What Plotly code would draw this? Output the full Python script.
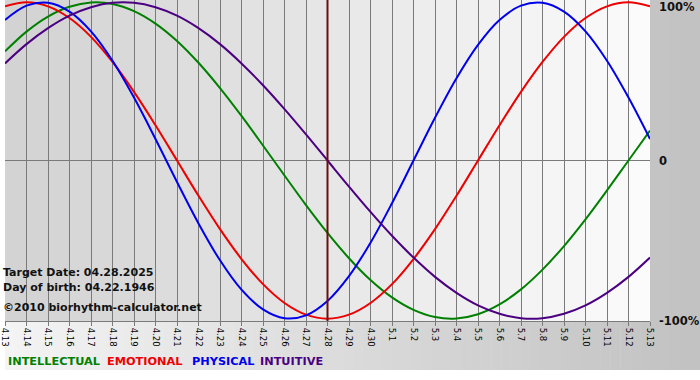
import plotly.graph_objects as go

# ---- data ----
dates = ["4.13", "4.14", "4.15", "4.16", "4.17", "4.18", "4.19", "4.20", "4.21", "4.22",
         "4.23", "4.24", "4.25", "4.26", "4.27", "4.28", "4.29", "4.30", "5.1", "5.2",
         "5.3", "5.4", "5.5", "5.6", "5.7", "5.8", "5.9", "5.10", "5.11", "5.12", "5.13"]

intellectual = [0.690, 0.815, 0.910, 0.972, 0.999, 0.990, 0.945, 0.866, 0.756, 0.618,
                0.458, 0.282, 0.095, -0.095, -0.282, -0.458, -0.618, -0.756, -0.866, -0.945,
                -0.990, -0.999, -0.972, -0.910, -0.815, -0.690, -0.541, -0.372, -0.189, 0.000, 0.189]

emotional = [0.975, 1.000, 0.975, 0.901, 0.782, 0.623, 0.434, 0.223, 0.000, -0.223,
             -0.434, -0.623, -0.782, -0.901, -0.975, -1.000, -0.975, -0.901, -0.782, -0.623,
             -0.434, -0.223, 0.000, 0.223, 0.434, 0.623, 0.782, 0.901, 0.975, 1.000, 0.975]

physical = [0.888, 0.979, 0.998, 0.942, 0.817, 0.631, 0.398, 0.136, -0.136, -0.398,
            -0.631, -0.817, -0.942, -0.998, -0.979, -0.888, -0.731, -0.520, -0.270, 0.000,
            0.270, 0.520, 0.731, 0.888, 0.979, 0.998, 0.942, 0.817, 0.631, 0.398, 0.136]

intuitive = [0.614, 0.736, 0.837, 0.916, 0.969, 0.997, 0.997, 0.969, 0.916, 0.837,
             0.736, 0.614, 0.476, 0.325, 0.165, 0.000, -0.165, -0.325, -0.476, -0.614,
             -0.736, -0.837, -0.916, -0.969, -0.997, -0.997, -0.969, -0.916, -0.837, -0.736, -0.614]

target_day = "4.28"
series_names = ["INTELLECTUAL", "EMOTIONAL", "PHYSICAL", "INTUITIVE"]
info_lines = ["Target Date: 04.28.2025", "Day of birth: 04.22.1946", "©2010 biorhythm-calculator.net"]
y_labels = ["100%", "0", "-100%"]

# ---- styling ----
W, H = 700, 380
PL, PR, PT, PB = 0, 650, 0, 321          # plot area in pixels
colors = ["#008000", "#ee0000", "#0000ee", "#4b0082"]
FONT = "DejaVu Sans"
grid = "#7a7a7a"
YR = 1.015

def pxx(px):
    return (px - PL) / (PR - PL)

def pxy(py):
    return (PB - py) / (PB - PT)

xs = list(range(len(dates)))
series = [intellectual, emotional, physical, intuitive]

fig = go.Figure()
for name, vals, col in zip(series_names, series, colors):
    fig.add_trace(go.Scatter(x=xs, y=vals, mode="lines", name=name,
                             line=dict(color=col, width=2, shape="spline", smoothing=1),
                             hoverinfo="skip", showlegend=False))

shapes = []
# overall background gradient (light left -> grey right)
n = 70
for i in range(n):
    c = int(244 - (244 - 194) * i / (n - 1))
    shapes.append(dict(type="rect", xref="paper", yref="paper", layer="below",
                       x0=pxx(i * W / n), x1=pxx((i + 1) * W / n + 0.5),
                       y0=pxy(370), y1=pxy(0),
                       fillcolor=f"rgb({c},{c},{c})", line=dict(width=0)))
# plot area per-day columns (darker left -> light right)
ncol = len(dates) - 1
for i in range(ncol):
    c = int(211 + (251 - 211) * i / (ncol - 1))
    shapes.append(dict(type="rect", xref="x", yref="paper", layer="below",
                       x0=i, x1=i + 1, y0=0, y1=1,
                       fillcolor=f"rgb({c},{c},{c})", line=dict(width=0)))
# target date line
ti = dates.index(target_day)
shapes.append(dict(type="line", xref="x", yref="paper", layer="above",
                   x0=ti, x1=ti, y0=0, y1=1, line=dict(color="#6a0f0f", width=2)))

annotations = []
info_y = [272, 287, 307]
for t, py in zip(info_lines, info_y):
    annotations.append(dict(text=f"<b>{t}</b>", xref="paper", yref="paper",
                            x=pxx(2), y=pxy(py), xanchor="left", yanchor="middle", xshift=-6,
                            showarrow=False, font=dict(family=FONT, size=11, color="#111111")))
legend_x = [7, 107, 192, 261]
for t, px, col in zip(series_names, legend_x, colors):
    annotations.append(dict(text=f"<b>{t}</b>", xref="paper", yref="paper",
                            x=pxx(px), y=pxy(361), xanchor="left", yanchor="middle", xshift=-6,
                            showarrow=False, font=dict(family=FONT, size=11.3, color=col)))
label_py = [7, 161, 321]
for t, py in zip(y_labels, label_py):
    annotations.append(dict(text=f"<b>{t}</b>", xref="paper", yref="paper",
                            x=pxx(657), y=pxy(py), xanchor="left", yanchor="middle",
                            showarrow=False, font=dict(family=FONT, size=11.5, color="#111111")))

fig.update_layout(
    width=W, height=H,
    margin=dict(l=PL, r=W - PR, t=PT, b=H - PB, pad=0),
    paper_bgcolor="white", plot_bgcolor="rgba(0,0,0,0)",
    shapes=shapes, annotations=annotations, showlegend=False,
    xaxis=dict(range=[0, len(dates) - 1], tickmode="array", tickvals=xs, ticktext=dates,
               tickangle=90, tickfont=dict(family=FONT, size=8.5, color="black"),
               ticklabeloverflow="allow",
               showgrid=True, gridcolor=grid, gridwidth=1, zeroline=False,
               showline=True, linecolor=grid, linewidth=1,
               ticks="outside", ticklen=4, tickcolor=grid, fixedrange=True),
    yaxis=dict(range=[-YR, YR], showgrid=False, zeroline=True, zerolinecolor=grid,
               zerolinewidth=1, showticklabels=False, ticks="", fixedrange=True),
)

fig.write_html("out.html", config={"displayModeBar": False},
               post_script="document.body.style.margin='0';document.body.style.padding='0';"
                           "document.body.style.overflow='hidden';")
